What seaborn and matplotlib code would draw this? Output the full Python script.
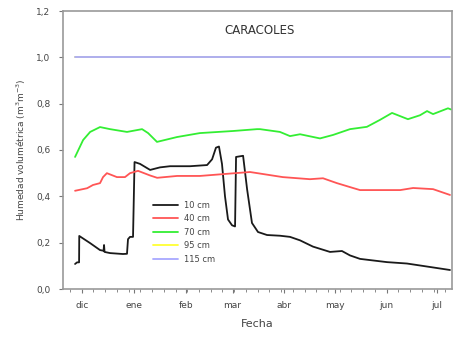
import numpy as np
import pandas as pd
import matplotlib
matplotlib.use("Agg")
import matplotlib.pyplot as plt
import seaborn as sns

# days counted from 1 December
dias_10 = [-4.0, -2.8, -1.6, -1.5, 5.0, 10.9, 13.0, 13.3, 13.6, 16.9, 24.6, 27.0, 27.6, 28.8, 30.6,
           31.5, 34.8, 40.8, 46.7, 52.7, 64.6, 74.8, 77.8, 80.1, 81.9, 83.7, 85.5, 87.3, 89.7, 91.5,
           92.1, 96.3, 98.7, 101.6, 105.2, 110.6, 118.3, 124.3, 130.3, 138.0, 148.2, 155.3, 160.1,
           166.1, 182.2, 194.1, 207.9, 219.8]
hum_10 = [0.108, 0.115, 0.115, 0.229, 0.198, 0.168, 0.165, 0.19, 0.16, 0.155, 0.151, 0.152, 0.215,
          0.225, 0.225, 0.548, 0.54, 0.514, 0.525, 0.53, 0.53, 0.535, 0.56, 0.61, 0.615, 0.54, 0.40,
          0.30, 0.275, 0.27, 0.57, 0.575, 0.43, 0.285, 0.246, 0.233, 0.23, 0.225, 0.21, 0.183, 0.16,
          0.164, 0.145, 0.13, 0.116, 0.11, 0.095, 0.082]

dias_40 = [-4.0, 3.2, 6.7, 10.9, 12.7, 15.0, 21.0, 25.8, 28.8, 33.6, 40.8, 45.0, 56.9, 70.5, 100.4,
           120.0, 136.2, 144.0, 152.3, 161.9, 166.1, 190.1, 197.8, 209.7, 219.8]
hum_40 = [0.424, 0.435, 0.449, 0.457, 0.483, 0.50, 0.483, 0.483, 0.50, 0.51, 0.49, 0.48, 0.488,
          0.488, 0.505, 0.483, 0.474, 0.478, 0.457, 0.436, 0.427, 0.427, 0.436, 0.431, 0.406]

dias_70 = [-4.0, 0.8, 5.0, 10.9, 16.9, 27.0, 36.0, 39.6, 44.9, 56.9, 70.5, 90.3, 104.6, 106.4,
           118.3, 124.3, 130.3, 142.2, 150.0, 160.1, 170.2, 178.0, 185.2, 194.7, 201.9, 206.1,
           209.7, 218.6, 220.4]
hum_70 = [0.57, 0.643, 0.678, 0.699, 0.69, 0.678, 0.69, 0.673, 0.635, 0.656, 0.673, 0.682, 0.69,
          0.69, 0.678, 0.66, 0.668, 0.65, 0.665, 0.69, 0.70, 0.73, 0.76, 0.733, 0.75, 0.768, 0.755,
          0.78, 0.775]

dias_95 = [-4.0, 219.8]
hum_95 = [1.0, 1.0]

dias_115 = [-4.0, 219.8]
hum_115 = [1.0, 1.0]

meses = ["dic", "ene", "feb", "mar", "abr", "may", "jun", "jul"]
dias_meses = [0, 31, 62, 90, 121, 151, 182, 212]
y_ticks = [0.0, 0.2, 0.4, 0.6, 0.8, 1.0, 1.2]
y_labels = ["0,0", "0,2", "0,4", "0,6", "0,8", "1,0", "1,2"]

series = [("10 cm", dias_10, hum_10, "#1a1a1a"),
          ("40 cm", dias_40, hum_40, "#ff5555"),
          ("70 cm", dias_70, hum_70, "#33ee33"),
          ("95 cm", dias_95, hum_95, "#ffff33"),
          ("115 cm", dias_115, hum_115, "#a8a8ff")]

sns.set_theme(style="white")
plt.rcParams["font.family"] = ["DejaVu Sans"]

fig = plt.figure(figsize=(4.54, 3.40), dpi=100)
ax = fig.add_axes([63/454, 1-289/340, (452-63)/454, (289-11)/340])

for nombre, d, h, c in series:
    df = pd.DataFrame({"dia": d, "hum": h})
    sns.lineplot(data=df, x="dia", y="hum", color=c, linewidth=1.3, label=nombre,
                 ax=ax, estimator=None, sort=False)

ax.set_xlim(-11.2, 221)
ax.set_ylim(0, 1.2)
ax.set_xticks(dias_meses)
ax.set_xticklabels(meses)
ax.set_xticks(np.arange(-7, 221, 7), minor=True)
ax.set_yticks(y_ticks)
ax.set_yticklabels(y_labels)
ax.tick_params(axis="both", which="major", direction="out", length=3, width=0.8,
               color="#777777", labelsize=6.5, labelcolor="#444444", pad=6,
               bottom=True, left=True)
ax.tick_params(axis="x", which="minor", direction="out", length=2, width=0.6,
               color="#777777", bottom=True)
for s in ax.spines.values():
    s.set_color("#999999")
    s.set_linewidth(1.2)

ax.set_xlabel("Fecha", fontsize=8, color="#444444", labelpad=6)
ax.set_ylabel("Humedad volumétrica (m$^3$m$^{-3}$)", fontsize=6.5, color="#444444", labelpad=6)
ax.text(0.505, 0.93, "CARACOLES", transform=ax.transAxes, ha="center", va="center",
        fontsize=8.5, color="#333333")

leg = ax.legend(loc="upper left", bbox_to_anchor=(0.222, 0.33), frameon=False, fontsize=6,
                handlelength=3.0, handletextpad=0.8, labelspacing=0.55, borderaxespad=0)
for t in leg.get_texts():
    t.set_color("#444444")

fig.savefig("out.png", dpi=100)
